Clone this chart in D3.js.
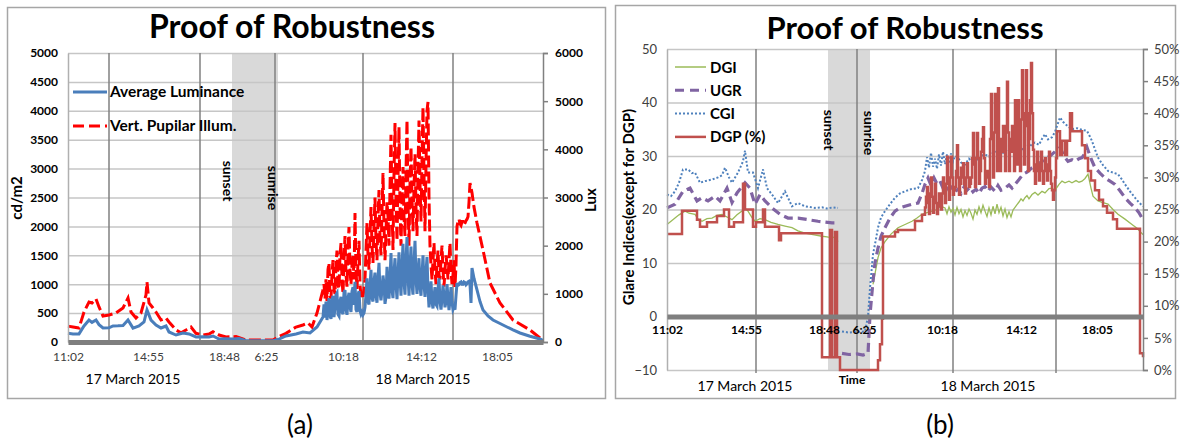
<!DOCTYPE html>
<html>
<head>
<meta charset="utf-8">
<script src="https://cdn.jsdelivr.net/npm/d3@7"></script>
<style>
  body { margin: 0; background: #fff; }
  text { font-family: Lato, "Liberation Sans", sans-serif; }
</style>
</head>
<body>
<div id="vis"></div>
<script>
// ---------- data (x = sample index along the time axis) ----------
const TIME_LABELS = ["11:02", "14:55", "18:48", "6:25", "10:18", "14:12", "18:05"];
const TIME_IDX_A = [0, 80, 156, 198, 275, 353, 429];
const TIME_IDX_B = [0, 79, 157, 197, 275, 354, 430];
const DAY_LABELS = ["17 March 2015", "18 March 2015"];
const DAY_IDX_A = [65, 355];
const DAY_IDX_B = [78, 321];
const VGRID_A = [41, 132, 207, 295, 385];
const VGRID_B = [89, 190, 286, 389];
const NIGHT_A = [164, 210];
const NIGHT_B = [161, 203];

const LUM_TICKS = [0, 500, 1000, 1500, 2000, 2500, 3000, 3500, 4000, 4500, 5000];
const LUX_TICKS = [0, 1000, 2000, 3000, 4000, 5000, 6000];
const GLARE_TICKS = [-10, 0, 10, 20, 30, 40, 50];
const PCT_TICKS = [0, 5, 10, 15, 20, 25, 30, 35, 40, 45, 50];

// Average Luminance (cd/m2)
const avgLum = [[0,150],[5,138],[11,140],[16,277],[21,380],[24,340],[28,380],[31,300],[35,242],[41,245],[45,277],[50,280],[55,285],[60,380],[65,240],[71,277],[76,346],[79,554],[83,380],[88,294],[93,242],[98,277],[101,173],[108,121],[115,156],[121,140],[128,87],[135,90],[141,87],[145,104],[151,52],[158,55],[165,52],[171,60],[178,23],[190,20],[205,23],[211,50],[218,104],[228,138],[235,173],[242,156],[249,260],[255,432],
  [256,650],[257,420],[258,700],[259,380],[260,560],[261,760],[262,450],[263,400],[264,720],[265,800],[266,430],[267,600],[268,820],[269,850],[270,480],[271,450],[272,700],[273,780],[274,520],[275,480],[276,860],[277,900],[278,560],[279,470],[280,760],[281,850],[282,600],[283,520],[284,880],[285,950],[286,640],[287,1040],[288,560],[289,520],[290,820],[291,880],[292,540],[293,480],[294,520],[295,470],[296,500],[297,600],[298,820],[299,1100],[300,700],[301,650],[302,980],[303,1250],[304,760],[305,700],[306,1050],[307,1200],[308,800],[309,680],[310,1100],[311,1370],[312,850],[313,720],[314,900],[315,1150],[316,1000],[317,660],[318,780],[319,1300],[320,950],[321,750],[322,1100],[323,1540],[324,900],[325,760],[326,1200],[327,1450],[328,1000],[329,740],[330,1150],[331,1550],[332,1100],[333,800],[334,1300],[335,1700],[336,1050],[337,820],[338,1400],[339,1817],[340,1150],[341,800],[342,1300],[343,1650],[344,1000],[345,820],[346,1350],[347,1750],[348,1100],[349,830],[350,1200],[351,1450],[352,950],[353,800],[354,1150],[355,1500],[356,1000],[357,780],[358,1200],[359,1470],[360,900],[361,600],[362,820],[363,1050],[364,700],[365,580],[366,780],[367,950],[368,650],[369,620],[370,900],[371,1100],[372,700],[373,560],[374,750],[375,980],[376,800],[377,600],[378,700],[379,1000],[380,760],[381,550],[382,720],[383,950],[384,700],[385,560],[386,600],[387,560],[388,800],[389,1020],[390,980],[391,990],[392,1030],[393,1040],[394,1000],[395,1000],[396,1040],[397,1030],[398,990],[399,1010],[400,1040],[401,1050],[402,1000],[403,675],[404,1280],[406,1100],[409,900],[412,700],[415,554],[420,450],[425,380],[432,320],[439,260],[445,210],[452,156],[462,100],[472,52],[475,30]];

// Vert. Pupilar Illum. (lux)
const vertIllum = [[0,330],[5,311],[11,290],[16,623],[21,830],[24,810],[28,893],[31,727],[35,540],[41,560],[48,602],[55,706],[60,913],[63,623],[68,498],[73,602],[78,976],[79,1245],[81,810],[85,706],[88,623],[93,457],[98,498],[101,415],[108,249],[113,193],[118,249],[123,311],[128,180],[135,145],[141,166],[145,214],[151,145],[158,104],[168,114],[178,41],[205,41],[211,114],[218,180],[228,311],[235,353],[240,394],[244,311],[249,602],[255,1080],
  [256,1200],[257,900],[258,1300],[259,850],[260,1500],[261,1640],[262,950],[263,900],[264,1400],[265,1700],[266,1100],[267,1000],[268,1600],[269,1900],[270,1200],[271,1100],[272,1800],[273,2055],[274,1300],[275,1000],[276,1700],[277,2200],[278,1400],[279,1150],[280,1900],[281,2387],[282,1500],[283,1200],[284,1600],[285,1800],[286,1300],[287,2678],[288,1500],[289,1100],[290,1700],[291,2100],[292,1200],[293,935],[294,1000],[295,940],[296,1100],[297,1300],[298,1900],[299,2470],[300,1800],[301,1500],[302,2200],[303,2800],[304,2000],[305,1640],[306,2400],[307,3000],[308,2100],[309,1700],[310,2600],[311,3155],[312,2200],[313,1800],[314,2700],[315,3508],[316,2400],[317,1700],[318,2300],[319,2900],[320,2600],[321,2000],[322,3200],[323,4300],[324,2800],[325,1910],[326,3500],[327,4546],[328,3000],[329,2100],[330,3400],[331,4463],[332,2800],[333,2000],[334,2900],[335,3633],[336,2600],[337,2200],[338,3500],[339,4608],[340,2900],[341,2000],[342,3300],[343,4048],[344,3000],[345,2300],[346,3200],[347,3900],[348,2800],[349,2200],[350,3600],[351,4600],[352,3300],[353,2500],[354,3800],[355,4878],[356,3500],[357,2300],[358,3700],[359,4800],[360,4982],[361,3000],[362,2000],[363,1600],[364,1300],[365,1700],[366,2055],[367,1500],[368,1200],[369,1600],[370,1900],[371,1400],[372,1300],[373,1700],[374,2000],[375,1500],[376,1150],[377,1500],[378,1800],[379,1600],[380,1300],[381,1700],[382,2055],[383,1500],[384,1200],[385,1400],[386,1700],[387,1142],[388,1600],[389,2400],[390,2500],[391,2550],[392,2450],[393,2420],[394,2500],[395,2500],[396,2430],[397,2470],[398,2520],[399,2550],[400,2600],[401,2900],[402,3300],[403,3200],[404,3100],[405,2950],[406,2800],[409,2470],[415,1910],[422,1225],[432,810],[445,457],[462,249],[472,83],[475,50]];

// DGI
const dgi = [[0,17.2],[4,17.8],[8,18.4],[12,19],[18,19.7],[22,19.3],[28,19.1],[31,18.2],[35,17.8],[40,18.3],[45,18.4],[50,18.9],[55,19.1],[60,18.6],[65,18.1],[70,19],[75,19.7],[78,20.2],[81,19.7],[85,18.5],[88,17.8],[93,18.3],[98,18.1],[104,17.6],[111,17.2],[118,16.9],[125,16.6],[131,16],[138,15.6],[146,15.3],[155,15],[160,14.9],[165,14.7],[168,14.9],[171,14],[172,null],
  [206,6],[209,9],[211,11],[214,12.8],[218,14],[224,15.4],[231,16.6],[238,17.2],[245,17.8],[250,18.4],[255,19.1],[260,19.4],[265,19.7],[270,20],[274,20.6],[278,20.3],[280,19.2],[282,20.5],[284,19.5],[286,20.2],[288,19],[290,20.4],[292,19.2],[294,20],[296,18.6],[298,19.8],[300,18.9],[302,20.1],[304,19.3],[306,18.2],[308,19.9],[310,19.1],[312,20.5],[314,19.4],[316,20.8],[318,19.7],[320,18.7],[322,20.3],[324,19],[326,20.6],[328,19.2],[330,21],[332,19.4],[334,20.4],[336,18.8],[338,20.1],[340,18.5],[342,19.6],[344,18.6],[346,19.9],[348,20.4],[350,20.9],[352,21.4],[354,22],[356,21.6],[358,22.2],[360,22.6],[362,22],[365,22.8],[368,23.2],[371,22.7],[375,23.4],[378,23.1],[382,23.9],[385,24],[388,23.6],[392,24.7],[395,25.3],[398,25],[402,25.3],[405,25],[409,25.4],[412,25.1],[415,25.3],[418,25.8],[421,26.6],[424,24],[426,22.5],[431,21.6],[436,21.3],[441,21],[446,20],[451,19.1],[458,18.2],[465,17.2],[470,16.5],[476,15.3]];

// UGR
const ugr = [[0,20.3],[8,21],[16,23.4],[23,24],[30,21.6],[35,22.2],[41,21.6],[48,22.5],[53,21.6],[60,24],[65,21.3],[70,23.1],[78,25],[83,24],[88,21],[93,22.8],[98,21.6],[105,20.3],[113,19.1],[121,18.4],[131,18.4],[141,18.1],[151,17.8],[165,17.5],[171,17.5],[173,null],
  [175,-6.9],[182,-7.1],[190,-7],[196,-7.2],[201,-6.9],[203,0.3],[206,6.6],[208,10],[211,12.8],[214,15],[218,16.6],[223,18.4],[228,19.7],[233,20.3],[238,20.6],[245,21],[251,21.2],[255,23],[258,24.7],[261,25.9],[264,24.5],[267,25.9],[270,24.8],[273,25.3],[276,24],[279,24.6],[282,23.6],[285,24.2],[288,23.4],[291,23.8],[294,23],[297,24.2],[300,23.6],[303,24.2],[306,23.3],[309,23.8],[312,23],[315,24],[318,24.3],[321,23.4],[324,24.2],[328,23.4],[331,24.5],[334,23.6],[338,24],[342,24.6],[345,24],[348,24.7],[352,25.6],[356,26.6],[360,27],[365,27.8],[370,28.3],[375,29],[380,29.6],[385,30.3],[389,31],[393,31.6],[397,30],[401,29],[405,29.3],[408,29],[412,29.5],[415,29.7],[418,30.5],[420,31.6],[424,29.5],[428,27.8],[433,26.8],[438,25.9],[443,25.3],[448,24.7],[453,23.5],[458,22.2],[463,21.2],[468,20.3],[472,19.4],[475,18.4]];

// CGI
const cgi = [[0,22.8],[4,22.5],[8,23.4],[12,25],[16,27.5],[21,27.5],[25,26.8],[28,26.9],[33,25],[38,25.3],[45,25.6],[51,26],[55,26.4],[58,27.8],[62,26],[65,25],[71,26.9],[76,29],[78,31],[81,26.9],[86,26.9],[91,24],[96,27.5],[100,24],[105,22.8],[111,21.2],[118,23.4],[125,20.6],[131,21.2],[138,20.6],[148,20.3],[155,20.4],[160,20.2],[166,20.4],[171,20.3],[173,null],
  [175,-2.8],[182,-3],[190,-2.9],[198,-2.8],[201,0],[203,5.3],[206,11.6],[209,14.5],[211,16.6],[214,18.5],[218,19.7],[223,21],[228,22.2],[233,23],[238,23.4],[244,23.8],[251,24],[255,25.5],[258,27.2],[260,29.8],[262,27.8],[264,30.6],[266,28],[268,29.5],[270,27.6],[272,30.3],[274,28.2],[276,30.8],[278,28.5],[280,30.3],[282,28.6],[284,30.5],[286,29],[288,30],[291,29.7],[294,28.8],[298,28.4],[302,29.5],[305,28.9],[308,29.7],[312,29.2],[315,30.1],[318,30.3],[322,29.9],[326,30.6],[331,30.9],[335,30.4],[340,31.2],[344,30.8],[348,31.2],[352,31.6],[355,31.1],[358,31.9],[362,31.5],[365,32.3],[368,32.5],[372,32.1],[375,33.2],[378,34.1],[381,33.1],[385,33.5],[388,34.5],[390,35.6],[393,37.2],[396,36.4],[398,36],[402,35.4],[405,35],[410,35.2],[415,34.9],[420,34.7],[423,33.6],[425,32.8],[428,31.2],[431,29.7],[436,28.3],[441,27.2],[446,26.9],[451,26.6],[455,25.6],[458,24.7],[463,23.4],[468,22.2],[472,21.3],[476,20.6]];

// DGP (%), stepwise
const dgp = [[0,21.2],[15,24.8],[30,23.4],[33,22.3],[40,23],[50,24],[57,25],[62,22.3],[67,23],[76,29],[78,25],[86,22.3],[89,23],[96,25],[98,22.3],[105,22.3],[112,20.2],[114,21.3],[155,2],[163,21.8],[165,2],[168,21.5],[170,2],[173,0],[211,1.5],[213,4],[215,8],[216,20.8],[228,21.5],[231,21.8],[248,23.2],[255,24.2],
  [258,25.3],[259,27],[260,28.5],[261,26],[262,24.3],[263,27.5],[264,30],[265,27],[266,24.5],[267,26.5],[268,29],[269,26],[270,24.3],[271,26],[272,27.5],[273,25.5],[274,25],[275,27.5],[276,30],[277,28],[278,26],[279,29],[280,33.2],[281,29],[282,26.5],[283,30],[284,33.2],[285,30],[286,27.3],[287,28],[288,28.5],[289,31],[290,35],[291,30],[292,27.3],[293,29],[294,31.5],[295,30],[296,32.2],[297,29],[298,27.5],[299,30],[300,32.2],[301,30],[302,28.5],[303,29],[304,30],[305,33],[306,36.9],[307,32],[308,28.5],[309,33],[310,36.9],[311,33],[312,29],[313,31],[314,34],[315,36],[316,37.8],[317,33],[318,29],[319,30],[320,31],[321,30],[322,28.5],[323,36],[324,43],[325,36],[326,30],[327,37],[328,43],[329,37],[330,31],[331,43.9],[332,36],[333,31],[334,34],[335,36],[336,38],[337,34],[338,31],[339,38],[340,44.9],[341,37],[342,31],[343,34],[344,36],[345,38],[346,34],[347,31],[348,42],[349,36],[350,32],[351,42],[352,36],[353,31],[354,39],[355,46.7],[356,40],[357,32],[358,38],[359,46.7],[360,40],[361,31],[362,36],[363,42],[364,47.8],[365,40],[366,34.3],[367,31],[368,29],[369,32],[370,34],[371,31],[372,29.5],[373,32],[374,34],[375,31],[376,29],[377,31],[378,33],[379,31],[380,29.5],[381,32],[382,34],[383,31],[384,29],[385,28],[386,26.5],[387,28],[388,30],[389,33],
  [390,37.2],[393,33.5],[395,35.7],[398,33.5],[400,35.7],[403,40],[405,37.2],[415,35],[418,33],[421,31],[424,29.5],[428,28],[432,26.5],[436,25.5],[440,24.5],[446,23.5],[450,22],[472,22],[473,2.6],[476,2]];

// ---------- frame ----------
const FRAME_WIDTH = 1180;
const FRAME_HEIGHT = 443;

const svg = d3.select("#vis")
  .append("svg")
    .attr("width", FRAME_WIDTH)
    .attr("height", FRAME_HEIGHT);

// panel borders
svg.append("rect").attr("x", 7.5).attr("y", 7.5).attr("width", 598).attr("height", 391)
  .attr("fill", "#fff").attr("stroke", "#a6a6a6").attr("stroke-width", 1.5);
svg.append("rect").attr("x", 615.5).attr("y", 5.5).attr("width", 560).attr("height", 393)
  .attr("fill", "#fff").attr("stroke", "#a6a6a6").attr("stroke-width", 1.5);

function styleGrid(g) {
  g.select(".domain").remove();
  g.selectAll("line").attr("stroke", "#c6c6c6").attr("stroke-width", 1.5);
}

// ================= PANEL (a) =================
const xA = d3.scaleLinear().domain([0, 475]).range([68, 543]);
const yLum = d3.scaleLinear().domain([0, 5000]).range([342, 53]);
const yLux = d3.scaleLinear().domain([0, 6000]).range([342, 53]);

svg.append("rect")
  .attr("x", xA(NIGHT_A[0])).attr("y", yLum(5000))
  .attr("width", xA(NIGHT_A[1]) - xA(NIGHT_A[0])).attr("height", yLum(0) - yLum(5000))
  .attr("fill", "#d9d9d9");

svg.append("g")
  .attr("transform", "translate(68,0)")
  .call(d3.axisLeft(yLum).tickValues(LUM_TICKS).tickSize(-475).tickFormat(""))
  .call(styleGrid);

svg.selectAll(".vgridA")
  .data(VGRID_A)
  .enter()
  .append("line")
    .attr("x1", d => xA(d)).attr("x2", d => xA(d))
    .attr("y1", yLum(5000)).attr("y2", yLum(0))
    .attr("stroke", "#808080").attr("stroke-width", 1.5);

const lineLum = d3.line().x(d => xA(d[0])).y(d => yLum(d[1]));
const lineLux = d3.line().x(d => xA(d[0])).y(d => yLux(d[1]));

svg.append("path").datum(vertIllum)
  .attr("d", lineLux).attr("fill", "none")
  .attr("stroke", "#ff0000").attr("stroke-width", 3)
  .attr("stroke-dasharray", "12,4");

svg.append("path").datum(avgLum)
  .attr("d", lineLum).attr("fill", "none")
  .attr("stroke", "#4a7ebb").attr("stroke-width", 3);

// left axis
svg.append("g")
  .attr("transform", "translate(68,0)")
  .call(d3.axisLeft(yLum).tickValues(LUM_TICKS).tickSize(0).tickPadding(10).tickFormat(d3.format("d")))
  .call(g => g.select(".domain").attr("stroke", "#b0b0b0").attr("stroke-width", 1.5))
  .call(g => g.selectAll("text").attr("font-size", 12).attr("font-weight", "bold").attr("fill", "#000"));

// right axis
svg.append("g")
  .attr("transform", "translate(543,0)")
  .call(d3.axisRight(yLux).tickValues(LUX_TICKS).tickSize(5).tickPadding(7).tickFormat(d3.format("d")))
  .call(g => g.select(".domain").attr("stroke", "#808080").attr("stroke-width", 1.5))
  .call(g => g.selectAll("line").attr("stroke", "#808080").attr("stroke-width", 1.5))
  .call(g => g.selectAll("text").attr("font-size", 12).attr("font-weight", "bold").attr("fill", "#000"));

// bottom axis
svg.append("g")
  .attr("transform", "translate(0," + yLum(0) + ")")
  .call(d3.axisBottom(xA).tickValues(TIME_IDX_A).tickFormat((d, i) => TIME_LABELS[i]).tickSize(0).tickPadding(10))
  .call(g => g.select(".domain").attr("stroke", "#7f7f7f").attr("stroke-width", 5))
  .call(g => g.selectAll("text").attr("font-size", 12).attr("fill", "#404040"));

svg.selectAll(".dayA")
  .data(DAY_LABELS)
  .enter()
  .append("text")
    .attr("x", (d, i) => xA(DAY_IDX_A[i])).attr("y", 384)
    .attr("text-anchor", "middle").attr("font-size", 14).attr("fill", "#000")
    .text(d => d);

svg.append("text").attr("x", 292).attr("y", 38).attr("text-anchor", "middle")
  .attr("font-size", 32).attr("font-weight", "bold").text("Proof of Robustness");

svg.append("text").attr("transform", "translate(22,198) rotate(-90)").attr("text-anchor", "middle")
  .attr("font-size", 15).attr("font-weight", "bold").text("cd/m2");
svg.append("text").attr("transform", "translate(596,200) rotate(-90)").attr("text-anchor", "middle")
  .attr("font-size", 15).attr("font-weight", "bold").text("Lux");

svg.append("text").attr("transform", "translate(223,181) rotate(90)").attr("text-anchor", "middle")
  .attr("font-size", 14).attr("font-weight", "bold").text("sunset");
svg.append("text").attr("transform", "translate(268,188) rotate(90)").attr("text-anchor", "middle")
  .attr("font-size", 14).attr("font-weight", "bold").text("sunrise");

// legend (a)
const LEGEND_A = [
  {name: "Average Luminance", color: "#4a7ebb", dash: null},
  {name: "Vert. Pupilar Illum.", color: "#ff0000", dash: "11,5"}
];
LEGEND_A.forEach((d, i) => {
  const ly = 92 + i * 34;
  svg.append("line").attr("x1", 73).attr("x2", 107).attr("y1", ly).attr("y2", ly)
    .attr("stroke", d.color).attr("stroke-width", 3).attr("stroke-dasharray", d.dash);
  svg.append("text").attr("x", 110).attr("y", ly + 5).attr("font-size", 15.5)
    .attr("font-weight", "bold").text(d.name);
});

// ================= PANEL (b) =================
const xB = d3.scaleLinear().domain([0, 476]).range([667, 1143]);
const yGl = d3.scaleLinear().domain([-10, 50]).range([370, 49]);
const yPct = d3.scaleLinear().domain([0, 50]).range([370, 49]);

svg.append("rect")
  .attr("x", xB(NIGHT_B[0])).attr("y", yGl(50))
  .attr("width", xB(NIGHT_B[1]) - xB(NIGHT_B[0])).attr("height", yGl(-10) - yGl(50))
  .attr("fill", "#d9d9d9");

svg.append("g")
  .attr("transform", "translate(667,0)")
  .call(d3.axisLeft(yGl).tickValues(GLARE_TICKS).tickSize(-476).tickFormat(""))
  .call(styleGrid);

svg.selectAll(".vgridB")
  .data(VGRID_B)
  .enter()
  .append("line")
    .attr("x1", d => xB(d)).attr("x2", d => xB(d))
    .attr("y1", yGl(50)).attr("y2", yGl(-10) + 3)
    .attr("stroke", "#808080").attr("stroke-width", 1.5);

const lineGl = d3.line().defined(d => d[1] !== null).x(d => xB(d[0])).y(d => yGl(d[1]));
const linePct = d3.line().curve(d3.curveStepAfter).x(d => xB(d[0])).y(d => yPct(d[1]));

svg.append("path").datum(dgi).attr("d", lineGl).attr("fill", "none")
  .attr("stroke", "#9bbb59").attr("stroke-width", 1.3);
svg.append("path").datum(ugr).attr("d", lineGl).attr("fill", "none")
  .attr("stroke", "#8064a2").attr("stroke-width", 3.2).attr("stroke-dasharray", "9,5");
svg.append("path").datum(cgi).attr("d", lineGl).attr("fill", "none")
  .attr("stroke", "#4f81bd").attr("stroke-width", 2).attr("stroke-dasharray", "2,2");
svg.append("path").datum(dgp).attr("d", linePct).attr("fill", "none")
  .attr("stroke", "#c0504d").attr("stroke-width", 2.5);

// left axis (b)
svg.append("g")
  .attr("transform", "translate(667,0)")
  .call(d3.axisLeft(yGl).tickValues(GLARE_TICKS).tickSize(0).tickPadding(10))
  .call(g => g.select(".domain").attr("stroke", "#b0b0b0").attr("stroke-width", 1.5))
  .call(g => g.selectAll("text").attr("font-size", 13).attr("fill", "#404040"));

// right axis (b)
svg.append("g")
  .attr("transform", "translate(1143,0)")
  .call(d3.axisRight(yPct).tickValues(PCT_TICKS).tickSize(5).tickPadding(6).tickFormat(d => d + "%"))
  .call(g => g.select(".domain").attr("stroke", "#808080").attr("stroke-width", 1.5))
  .call(g => g.selectAll("line").attr("stroke", "#808080").attr("stroke-width", 1.5))
  .call(g => g.selectAll("text").attr("font-size", 13).attr("fill", "#404040"));

// zero axis (b)
svg.append("g")
  .attr("transform", "translate(0," + yGl(0) + ")")
  .call(d3.axisBottom(xB).tickValues(TIME_IDX_B).tickFormat((d, i) => TIME_LABELS[i]).tickSize(0).tickPadding(9))
  .call(g => g.select(".domain").attr("stroke", "#7f7f7f").attr("stroke-width", 5))
  .call(g => g.selectAll("text").attr("font-size", 12).attr("font-weight", "bold").attr("fill", "#000"));

svg.selectAll(".dayB")
  .data(DAY_LABELS)
  .enter()
  .append("text")
    .attr("x", (d, i) => xB(DAY_IDX_B[i])).attr("y", 391)
    .attr("text-anchor", "middle").attr("font-size", 14).attr("fill", "#000")
    .text(d => d);

svg.append("text").attr("x", 852).attr("y", 384).attr("text-anchor", "middle")
  .attr("font-size", 12).attr("font-weight", "bold").text("Time");

svg.append("text").attr("x", 905).attr("y", 39).attr("text-anchor", "middle")
  .attr("font-size", 31).attr("font-weight", "bold").text("Proof of Robustness");

svg.append("text").attr("transform", "translate(634,207) rotate(-90)").attr("text-anchor", "middle")
  .attr("font-size", 15).attr("font-weight", "bold").text("Glare Indices(except for DGP)");

svg.append("text").attr("transform", "translate(824,130) rotate(90)").attr("text-anchor", "middle")
  .attr("font-size", 14).attr("font-weight", "bold").text("sunset");
svg.append("text").attr("transform", "translate(864,133) rotate(90)").attr("text-anchor", "middle")
  .attr("font-size", 14).attr("font-weight", "bold").text("sunrise");

// legend (b)
const LEGEND_B = [
  {name: "DGI", color: "#9bbb59", width: 1.5, dash: null},
  {name: "UGR", color: "#8064a2", width: 3, dash: "9,6"},
  {name: "CGI", color: "#4f81bd", width: 2, dash: "2,2"},
  {name: "DGP (%)", color: "#c0504d", width: 2.5, dash: null}
];
LEGEND_B.forEach((d, i) => {
  const ly = 67 + i * 23.3;
  svg.append("line").attr("x1", 675).attr("x2", 706).attr("y1", ly).attr("y2", ly)
    .attr("stroke", d.color).attr("stroke-width", d.width).attr("stroke-dasharray", d.dash);
  svg.append("text").attr("x", 710).attr("y", ly + 5.5).attr("font-size", 15)
    .attr("font-weight", "bold").text(d.name);
});

// captions
svg.append("text").attr("x", 300).attr("y", 434).attr("text-anchor", "middle")
  .attr("font-family", "Liberation Serif").attr("font-size", 26).text("(a)");
svg.append("text").attr("x", 940).attr("y", 434).attr("text-anchor", "middle")
  .attr("font-family", "Liberation Serif").attr("font-size", 26).text("(b)");
</script>
</body>
</html>
